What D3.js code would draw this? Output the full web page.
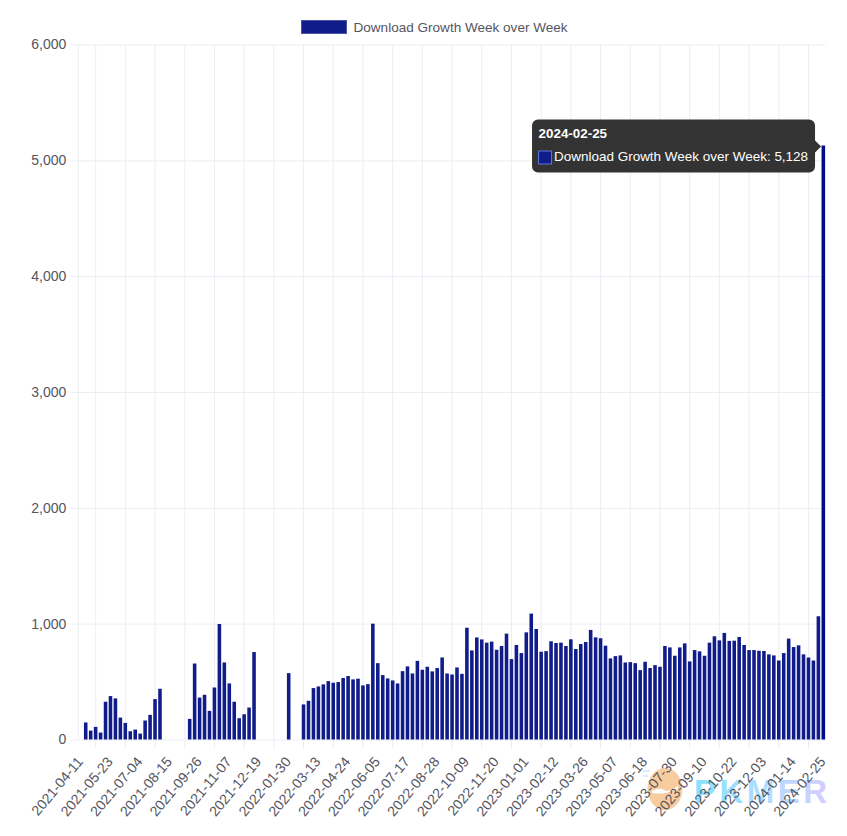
<!DOCTYPE html>
<html>
<head>
<meta charset="utf-8">
<script src="https://cdn.jsdelivr.net/npm/d3@7"></script>
<style>
  body { margin: 0; background: #fff; font-family: "Liberation Sans", Arial, sans-serif; }
  svg { display: block; }
  text { font-family: "Liberation Sans", Arial, sans-serif; }
</style>
</head>
<body>
<svg id="chart" width="847" height="836"></svg>
<script>
const seriesName = "Download Growth Week over Week";
const firstWeek = "2021-04-11", lastWeek = "2024-02-25";

const tickLabels = [
  "2021-04-11", "2021-05-23", "2021-07-04", "2021-08-15", "2021-09-26", "2021-11-07", "2021-12-19",
  "2022-01-30", "2022-03-13", "2022-04-24", "2022-06-05", "2022-07-17", "2022-08-28", "2022-10-09",
  "2022-11-20", "2023-01-01", "2023-02-12", "2023-03-26", "2023-05-07", "2023-06-18", "2023-07-30",
  "2023-09-10", "2023-10-22", "2023-12-03", "2024-01-14", "2024-02-25"
];
const yTicks = [0, 1000, 2000, 3000, 4000, 5000, 6000];

// one value per week, null where the source has no bar
const growth2021 = [
  null, 147, 77, 109, 60, 326, 375, 355, 189, 143, 71, 86, 51, 164, 213, 349, 438,
  null, null, null, null, null, 178, 656, 362, 386, 247, 449, 997, 665, 484, 326,
  184, 218, 276, 755
];
const growth2022 = [
  null, null, null, null, null, null, 573, null, null, 303, 334, 444, 458, 476, 504,
  490, 496, 531, 548, 519, 525, 467, 478, 1000, 659, 556, 527, 510, 484, 590, 631,
  570, 679, 602, 628, 588, 617, 708, 570, 561, 622, 567, 965, 769, 881, 864, 836,
  845, 775, 807, 914, 694, 816, 746, 925, 1087, 954, 758, 763, 848, 833, 836, 807,
  865, 781, 824
];
const growth2023 = [
  842, 946, 882, 874, 810, 700, 720, 726, 665, 668, 659, 599, 671, 617, 642, 628,
  807, 795, 723, 795, 830, 674, 772, 761, 723, 836, 891, 856, 920, 851, 853, 885,
  816, 772, 772, 766, 764, 735, 726, 682, 746, 871, 798, 813, 735, 708, 682, 1064
];
const growth2024 = [5128];
const values = [...growth2021, ...growth2022, ...growth2023, ...growth2024];

const fmtDay = d3.utcFormat("%Y-%m-%d");
const weeks = d3.utcWeek.range(new Date(firstWeek), d3.utcDay.offset(new Date(lastWeek), 1)).map(fmtDay);
const data = weeks.map((w, i) => ({ week: w, value: values[i] }));

const svg = d3.select("#chart");
const margin = { top: 44.5, right: 21.2, bottom: 96.5, left: 78.3 };
const width = +svg.attr("width") - margin.left - margin.right;
const height = +svg.attr("height") - margin.top - margin.bottom;

const barColor = "#101c8a", gridColor = "#ededf4", textColor = "#55555f";

// watermark sits under the axis text
const defs = svg.append("defs");
const grad = defs.append("linearGradient").attr("id", "wm").attr("x1", 0).attr("x2", 1).attr("y1", 0).attr("y2", 0);
grad.append("stop").attr("offset", 0).attr("stop-color", "#86e2ff");
grad.append("stop").attr("offset", 0.55).attr("stop-color", "#b4dcff");
grad.append("stop").attr("offset", 1).attr("stop-color", "#d6ccff");

const wm = svg.append("g").attr("class", "watermark");
wm.append("ellipse").attr("cx", 665).attr("cy", 789).attr("rx", 17.5).attr("ry", 21).attr("fill", "#f7cd9f");
wm.append("path").attr("d", "M652 791 Q660 787 664 790 T678 786 L678 789 Q670 792 665 793 T652 793 Z").attr("fill", "#fff");
wm.append("rect").attr("x", 643).attr("y", 770).attr("width", 7).attr("height", 2).attr("fill", "#d8eefb");
wm.append("rect").attr("x", 643).attr("y", 775).attr("width", 5).attr("height", 2).attr("fill", "#d8eefb");
wm.append("text").attr("x", 694).attr("y", 803).attr("font-size", 33).attr("font-weight", 700)
  .attr("letter-spacing", 3.5).attr("fill", "url(#wm)").text("PKMER");

const g = svg.append("g").attr("transform", `translate(${margin.left},${margin.top})`);

const x = d3.scaleBand().domain(weeks).range([0, width]).paddingInner(0.28).paddingOuter(0.14);
const y = d3.scaleLinear().domain([0, 6000]).range([height, 0]);
const xMid = d => x(d) + x.bandwidth() / 2;

// vertical grid lines sit halfway between the visible labels, and run past the baseline as ticks
const gridShift = x.step() * 3;
g.append("g").selectAll("line")
  .data(tickLabels.slice(1))
  .join("line")
  .attr("x1", d => xMid(d) - gridShift).attr("x2", d => xMid(d) - gridShift)
  .attr("y1", 0).attr("y2", height + 9)
  .attr("stroke", gridColor);
g.append("line").attr("x1", 0).attr("x2", 0).attr("y1", 0).attr("y2", height).attr("stroke", gridColor);

// y axis
const yAxis = g.append("g").call(d3.axisLeft(y).tickValues(yTicks).tickFormat(d3.format(",")).tickSize(-width).tickPadding(12));
yAxis.select(".domain").remove();
yAxis.selectAll(".tick line").attr("stroke", gridColor).attr("x1", -8);
yAxis.selectAll(".tick text").attr("fill", textColor).attr("font-size", 14).attr("font-family", "Liberation Sans");

// bars
g.append("g").selectAll("rect")
  .data(data.filter(d => d.value != null))
  .join("rect")
  .attr("x", d => x(d.week))
  .attr("y", d => y(d.value))
  .attr("width", x.bandwidth())
  .attr("height", d => y(0) - y(d.value))
  .attr("fill", (d, i, n) => i === n.length - 1 ? "#000d8a" : barColor);

// x axis, labels only
const xAxis = g.append("g").attr("transform", `translate(0,${height})`)
  .call(d3.axisBottom(x).tickValues(tickLabels).tickSize(0));
xAxis.select(".domain").remove();
xAxis.selectAll(".tick text")
  .attr("fill", textColor).attr("font-size", 14.1).attr("font-family", "Liberation Sans")
  .attr("text-anchor", "end").attr("dy", 0).attr("y", 0)
  .attr("transform", "translate(3,22.5) rotate(-50)");

// legend
const legend = svg.append("g");
legend.append("rect").attr("x", 301.5).attr("y", 20.5).attr("width", 45).attr("height", 13)
  .attr("fill", barColor).attr("stroke", "#4a55a8");
legend.append("text").attr("x", 353.5).attr("y", 31.5).attr("font-size", 13.55).attr("fill", textColor).text(seriesName);

// tooltip on the last bar
const lastBar = data[data.length - 1];
const tipX = margin.left + x(lastBar.week) - 0.5, tipY = margin.top + y(lastBar.value) + 1;
const tip = svg.append("g").attr("transform", `translate(${tipX},${tipY})`);
const boxW = 283, r = 6, cw = 6, boxTop = -27, boxBottom = 26;
tip.append("path")
  .attr("d", `M${-cw} -6 V${boxTop + r} a${r} ${r} 0 0 0 ${-r} ${-r} h${-(boxW - 2 * r)} a${r} ${r} 0 0 0 ${-r} ${r} V${boxBottom - r}
     a${r} ${r} 0 0 0 ${r} ${r} h${boxW - 2 * r} a${r} ${r} 0 0 0 ${r} ${-r} V6 L0 0 Z`)
  .attr("fill", "#333");
tip.append("text").attr("x", -cw - boxW + 6.5).attr("y", -8.5).attr("font-size", 13.4).attr("font-weight", 700).attr("fill", "#fff").text(lastBar.week);
tip.append("rect").attr("x", -cw - boxW + 6.5).attr("y", 4.5).attr("width", 13).attr("height", 13)
  .attr("fill", barColor).attr("stroke", "#5a78e0");
tip.append("text").attr("x", -cw - boxW + 22).attr("y", 14.5).attr("font-size", 13.47).attr("fill", "#fff")
  .text(`${seriesName}: ${d3.format(",")(lastBar.value)}`);
</script>
</body>
</html>
